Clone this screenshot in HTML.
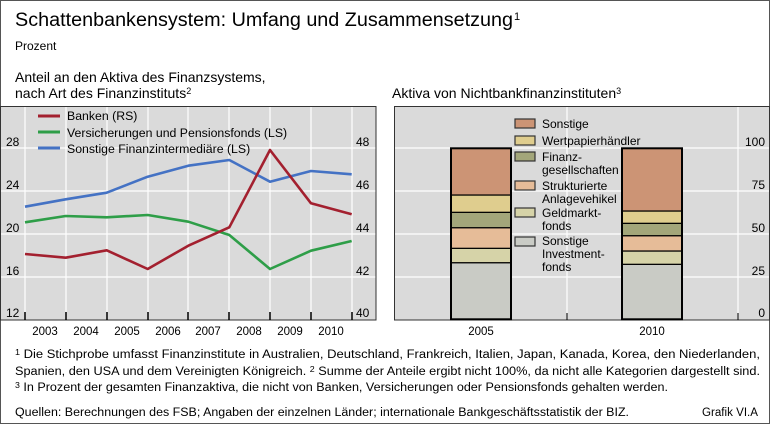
<!DOCTYPE html>
<html><head><meta charset="utf-8"><style>
html,body{margin:0;padding:0;background:#fff;}
svg{display:block;font-family:"Liberation Sans",sans-serif;}
</style></head><body>
<svg width="770" height="424" viewBox="0 0 770 424" xmlns="http://www.w3.org/2000/svg">
<rect x="0.5" y="0.5" width="769" height="423" fill="#fff" stroke="#555" stroke-width="1"/>
<text x="15" y="26" font-size="19" fill="#000" textLength="498" lengthAdjust="spacingAndGlyphs">Schattenbankensystem: Umfang und Zusammensetzung</text>
<text x="514" y="20" font-size="11">1</text>
<text x="15" y="50" font-size="12">Prozent</text>
<text x="15" y="82" font-size="14">Anteil an den Aktiva des Finanzsystems,</text>
<text x="15" y="98" font-size="14">nach Art des Finanzinstituts<tspan font-size="9" dy="-4">2</tspan></text>
<text x="392" y="98" font-size="14">Aktiva von Nichtbankfinanzinstituten<tspan font-size="9" dy="-4">3</tspan></text>

<!-- left panel -->
<rect x="0" y="106" width="376" height="214" fill="#dadada"/>
<g stroke="#fff" stroke-width="1.2">
<line x1="0" y1="148" x2="376" y2="148"/><line x1="0" y1="191" x2="376" y2="191"/>
<line x1="0" y1="234" x2="376" y2="234"/><line x1="0" y1="277" x2="376" y2="277"/>
<line x1="25" y1="106" x2="25" y2="320"/><line x1="66" y1="106" x2="66" y2="320"/>
<line x1="107" y1="106" x2="107" y2="320"/><line x1="148" y1="106" x2="148" y2="320"/>
<line x1="188" y1="106" x2="188" y2="320"/><line x1="229" y1="106" x2="229" y2="320"/>
<line x1="270" y1="106" x2="270" y2="320"/><line x1="311" y1="106" x2="311" y2="320"/>
<line x1="352" y1="106" x2="352" y2="320"/>
</g>
<rect x="0.5" y="106.5" width="375.5" height="213.5" fill="none" stroke="#333" stroke-width="1"/>
<g stroke="#000" stroke-width="1.5">
<line x1="25" y1="312" x2="25" y2="320"/><line x1="66" y1="312" x2="66" y2="320"/><line x1="107" y1="312" x2="107" y2="320"/><line x1="148" y1="312" x2="148" y2="320"/><line x1="188" y1="312" x2="188" y2="320"/><line x1="229" y1="312" x2="229" y2="320"/><line x1="270" y1="312" x2="270" y2="320"/><line x1="311" y1="312" x2="311" y2="320"/><line x1="352" y1="312" x2="352" y2="320"/>
</g>
<g font-size="12" fill="#000">
<text x="6" y="146">28</text><text x="6" y="189">24</text><text x="6" y="232">20</text><text x="6" y="275">16</text><text x="6" y="317">12</text>
<text x="356" y="146">48</text><text x="356" y="189">46</text><text x="356" y="232">44</text><text x="356" y="275">42</text><text x="356" y="317">40</text>
</g>
<g font-size="11.5" text-anchor="middle">
<text x="45" y="335">2003</text><text x="86" y="335">2004</text><text x="127" y="335">2005</text><text x="168" y="335">2006</text><text x="208" y="335">2007</text><text x="249" y="335">2008</text><text x="290" y="335">2009</text><text x="331" y="335">2010</text>
</g>
<g fill="none" stroke-width="2.6" stroke-linejoin="round">
<polyline stroke="#4472c4" points="25,206.7 65.7,199.3 106.7,192.7 147.7,176.7 188.3,165.7 229.3,160 270,181.7 311,171 351.7,174.3"/>
<polyline stroke="#2e9e48" points="25,222.3 65.7,216 106.7,217.3 147.7,215 188.3,221.7 229.3,235 270,269 311,250.7 351.7,241"/>
<polyline stroke="#a3202f" points="25,254 65.7,257.7 106.7,250.3 147.7,269 188.3,245.7 229.3,227.3 270,150 311,203.3 351.7,214.3"/>
</g>
<g stroke-width="3">
<line x1="38" y1="116" x2="60" y2="116" stroke="#a3202f"/>
<line x1="38" y1="132" x2="60" y2="132" stroke="#2e9e48"/>
<line x1="38" y1="148" x2="60" y2="148" stroke="#4472c4"/>
</g>
<g font-size="12.3">
<text x="67" y="120">Banken (RS)</text>
<text x="67" y="137">Versicherungen und Pensionsfonds (LS)</text>
<text x="67" y="153">Sonstige Finanzintermediäre (LS)</text>
</g>

<!-- right panel -->
<rect x="394" y="106" width="376" height="214" fill="#dadada"/>
<g stroke="#fff" stroke-width="1.2">
<line x1="394" y1="148" x2="770" y2="148"/><line x1="394" y1="191" x2="770" y2="191"/>
<line x1="394" y1="234" x2="770" y2="234"/><line x1="394" y1="277" x2="770" y2="277"/>
<line x1="567" y1="106" x2="567" y2="320"/><line x1="738" y1="106" x2="738" y2="320"/>
</g>
<rect x="394.5" y="106.5" width="375" height="213.5" fill="none" stroke="#333" stroke-width="1"/>
<g stroke="#000" stroke-width="1"><line x1="567" y1="313" x2="567" y2="320"/><line x1="738" y1="313" x2="738" y2="320"/></g>
<g stroke="#000" stroke-width="1.2">
<rect x="451" y="262.7" width="60" height="56.6" fill="#c9cbc5"/>
<rect x="451" y="248.3" width="60" height="14.4" fill="#d6d3a8"/>
<rect x="451" y="227.7" width="60" height="20.6" fill="#e6bc98"/>
<rect x="451" y="212.3" width="60" height="15.4" fill="#a3a67a"/>
<rect x="451" y="195" width="60" height="17.3" fill="#dfcd8e"/>
<rect x="451" y="148.3" width="60" height="46.7" fill="#cc9475"/>
<rect x="622" y="264.3" width="60" height="55" fill="#c9cbc5"/>
<rect x="622" y="251" width="60" height="13.3" fill="#d6d3a8"/>
<rect x="622" y="235.7" width="60" height="15.3" fill="#e6bc98"/>
<rect x="622" y="223.3" width="60" height="12.4" fill="#a3a67a"/>
<rect x="622" y="211" width="60" height="12.3" fill="#dfcd8e"/>
<rect x="622" y="148.3" width="60" height="62.7" fill="#cc9475"/>
</g>
<rect x="451" y="148.3" width="60" height="171" fill="none" stroke="#000" stroke-width="2"/>
<rect x="622" y="148.3" width="60" height="171" fill="none" stroke="#000" stroke-width="2"/>
<g stroke="#333" stroke-width="1.2">
<rect x="515" y="119" width="20" height="9" fill="#cc9475"/>
<rect x="515" y="136" width="20" height="9" fill="#dfcd8e"/>
<rect x="515" y="152" width="20" height="9" fill="#a3a67a"/>
<rect x="515" y="181" width="20" height="9" fill="#e6bc98"/>
<rect x="515" y="208" width="20" height="9" fill="#d6d3a8"/>
<rect x="515" y="237" width="20" height="9" fill="#c9cbc5"/>
</g>
<g font-size="12">
<text x="542" y="128">Sonstige</text>
<text x="542" y="145">Wertpapierhändler</text>
<text x="542" y="161">Finanz-</text><text x="542" y="174">gesellschaften</text>
<text x="542" y="190">Strukturierte</text><text x="542" y="203">Anlagevehikel</text>
<text x="542" y="217">Geldmarkt-</text><text x="542" y="230">fonds</text>
<text x="542" y="245">Sonstige</text><text x="542" y="258">Investment-</text><text x="542" y="271">fonds</text>
</g>
<g font-size="12" text-anchor="end">
<text x="765" y="146">100</text><text x="765" y="189">75</text><text x="765" y="232">50</text><text x="765" y="275">25</text><text x="765" y="317">0</text>
</g>
<g font-size="11.5" text-anchor="middle"><text x="481" y="335">2005</text><text x="652" y="335">2010</text></g>

<!-- footnotes -->
<g font-size="11.5" font-family="'Liberation Sans Narrow','Liberation Sans',sans-serif">
<text x="15" y="358" textLength="745" lengthAdjust="spacingAndGlyphs"><tspan font-size="8" dy="-3">1</tspan><tspan dy="3"> Die Stichprobe umfasst Finanzinstitute in Australien, Deutschland, Frankreich, Italien, Japan, Kanada, Korea, den Niederlanden,</tspan></text>
<text x="15" y="375" textLength="745" lengthAdjust="spacingAndGlyphs">Spanien, den USA und dem Vereinigten Königreich.    <tspan font-size="8" dy="-3">2</tspan><tspan dy="3"> Summe der Anteile ergibt nicht 100%, da nicht alle Kategorien dargestellt sind.</tspan></text>
<text x="15" y="391" textLength="653" lengthAdjust="spacingAndGlyphs"><tspan font-size="8" dy="-3">3</tspan><tspan dy="3"> In Prozent der gesamten Finanzaktiva, die nicht von Banken, Versicherungen oder Pensionsfonds gehalten werden.</tspan></text>
<text x="15" y="416" textLength="614" lengthAdjust="spacingAndGlyphs">Quellen: Berechnungen des FSB; Angaben der einzelnen Länder; internationale Bankgeschäftsstatistik der BIZ.</text>
<text x="702" y="416" textLength="56" lengthAdjust="spacingAndGlyphs">Grafik VI.A</text>
</g>
</svg>
</body></html>
